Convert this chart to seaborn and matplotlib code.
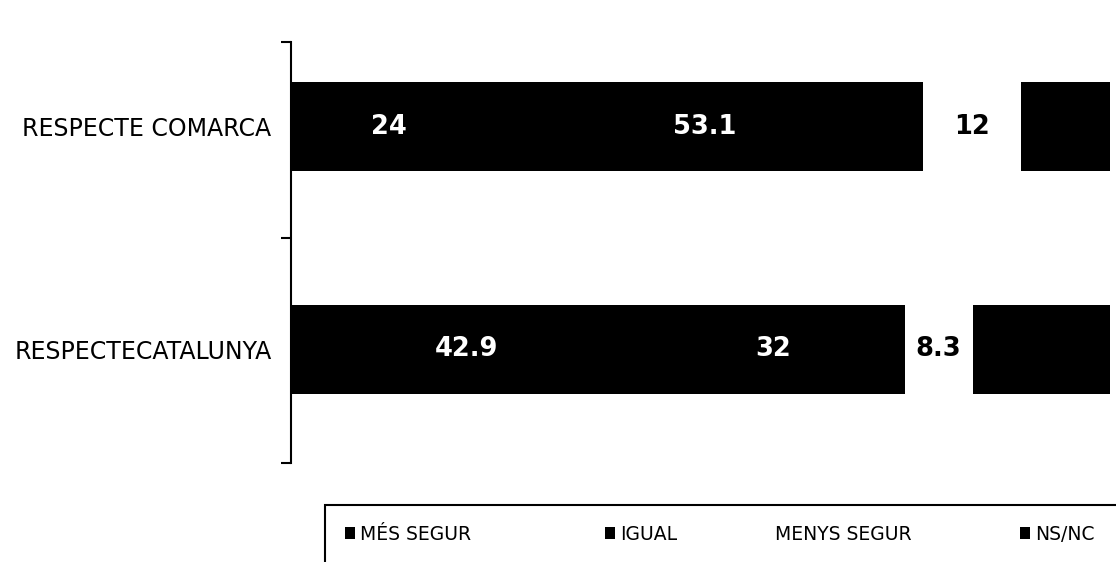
import matplotlib
matplotlib.use("Agg")
import matplotlib.pyplot as plt
import seaborn as sns
import pandas as pd
import numpy as np
from matplotlib.patches import Patch, Rectangle

categories = ["RESPECTE COMARCA", "RESPECTECATALUNYA"]
series = ["MÉS SEGUR", "IGUAL", "MENYS SEGUR", "NS/NC"]
mes_segur = [24, 42.9]
igual = [53.1, 32]
menys_segur = [12, 8.3]
ns_nc = [10.9, 16.8]

series_colors = ["black", "black", "white", "black"]
label_colors = ["white", "white", "black", None]   # NS/NC has no label
legend_x = [345, 605, 760, 1020]                    # handle left edge, px

sns.set_style("white")
plt.rcParams["font.family"] = ["DejaVu Sans"]
plt.rcParams["text.color"] = "black"
plt.rcParams["ytick.labelcolor"] = "black"

values = np.array([mes_segur, igual, menys_segur, ns_nc])
cum = values.cumsum(axis=0)
starts = cum - values

W, H = 1116, 562
fig = plt.figure(figsize=(W / 100, H / 100), dpi=100)
ax = fig.add_axes([291 / W, 1 - 463 / H, (W - 291) / W, (463 - 42) / H])

# stacked look: draw cumulative totals from the longest back to the shortest
for i in range(len(series) - 1, -1, -1):
    df = pd.DataFrame({"cat": categories, "val": cum[i]})
    sns.barplot(data=df, x="val", y="cat", orient="h", color=series_colors[i],
                saturation=1, width=0.4, linewidth=0, errorbar=None, ax=ax)

for i in range(len(series)):
    if label_colors[i] is None:
        continue
    for j in range(len(categories)):
        ax.text(starts[i, j] + values[i, j] / 2, j, f"{values[i, j]:g}",
                ha="center", va="center", color=label_colors[i],
                fontsize=18.5, fontweight="bold")

ax.set_xlim(0, 100.7)
ax.set_ylim(1.51, -0.38)
ax.set_xticks([])
ax.set_xlabel("")
ax.set_ylabel("")
for s in ["top", "right", "bottom"]:
    ax.spines[s].set_visible(False)
ax.spines["left"].set_linewidth(1.5)
ax.spines["left"].set_color("black")
ax.set_yticks([-0.38, 0.5, 1.51], minor=True)
ax.tick_params(axis="y", which="major", length=0, pad=14, labelsize=17,
               labelcolor="black")
ax.tick_params(axis="y", which="minor", length=7, width=1.5, color="black",
               direction="out", left=True)

# legend entries placed one by one, like the original
for name, col, x in zip(series, series_colors, legend_x):
    fig.legend(handles=[Patch(facecolor=col, edgecolor="none")], labels=[name],
               loc="center left", bbox_to_anchor=(x / W, 1 - 534 / H),
               frameon=False, handlelength=0.55, handleheight=0.6,
               handletextpad=0.25, borderpad=0, borderaxespad=0,
               labelcolor="black", prop={"size": 13.5})

fig.add_artist(Rectangle((325 / W, -0.2), 1.0, 0.2 + 1 - 505 / H,
                         transform=fig.transFigure, fill=False,
                         edgecolor="black", linewidth=1.5))

fig.savefig("out.png", dpi=100)
